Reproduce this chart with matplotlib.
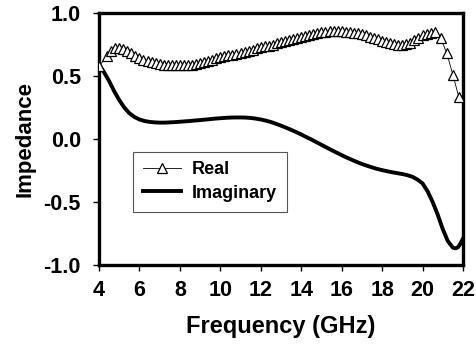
import matplotlib
matplotlib.use("Agg")
import matplotlib.pyplot as plt
import numpy as np

plt.rcParams['font.family'] = ['Liberation Sans', 'DejaVu Sans']
plt.rcParams['font.weight'] = 'bold'

# real part, sampled every 0.2 GHz plus the roll-off points
freq_real = [4.0, 4.4, 4.6, 4.8, 5.0, 5.2, 5.4, 5.6, 5.8, 6.0, 6.2, 6.4, 6.6, 6.8,
             7.0, 7.2, 7.4, 7.6, 7.8, 8.0, 8.2, 8.4, 8.6, 8.8, 9.0, 9.2, 9.4, 9.6,
             9.8, 10.0, 10.2, 10.4, 10.6, 10.8, 11.0, 11.2, 11.4, 11.6, 11.8, 12.0,
             12.2, 12.4, 12.6, 12.8, 13.0, 13.2, 13.4, 13.6, 13.8, 14.0, 14.2, 14.4,
             14.6, 14.8, 15.0, 15.2, 15.4, 15.6, 15.8, 16.0, 16.2, 16.4, 16.6, 16.8,
             17.0, 17.2, 17.4, 17.6, 17.8, 18.0, 18.2, 18.4, 18.6, 18.8, 19.0, 19.2,
             19.4, 19.6, 19.8, 20.0, 20.2, 20.4, 20.6, 20.9, 21.2, 21.5, 21.8]
real = [0.58, 0.655, 0.700, 0.720, 0.725, 0.718, 0.702, 0.680, 0.658, 0.642, 0.630,
        0.618, 0.608, 0.600, 0.594, 0.590, 0.588, 0.587, 0.586, 0.586, 0.587, 0.588,
        0.591, 0.598, 0.606, 0.614, 0.622, 0.631, 0.640, 0.648, 0.656, 0.663, 0.670,
        0.677, 0.685, 0.693, 0.701, 0.710, 0.719, 0.728, 0.735, 0.742, 0.750, 0.760,
        0.770, 0.778, 0.787, 0.795, 0.803, 0.811, 0.819, 0.826, 0.834, 0.841, 0.848,
        0.852, 0.855, 0.857, 0.857, 0.856, 0.853, 0.849, 0.844, 0.838, 0.831, 0.822,
        0.812, 0.801, 0.790, 0.779, 0.768, 0.759, 0.752, 0.749, 0.748, 0.752, 0.765,
        0.785, 0.805, 0.822, 0.835, 0.843, 0.847, 0.800, 0.680, 0.510, 0.330]

# imaginary part, every 0.25 GHz
freq_imag = [4.0, 4.25, 4.5, 4.75, 5.0, 5.25, 5.5, 5.75, 6.0, 6.25, 6.5, 6.75, 7.0,
             7.25, 7.5, 7.75, 8.0, 8.25, 8.5, 8.75, 9.0, 9.25, 9.5, 9.75, 10.0,
             10.25, 10.5, 10.75, 11.0, 11.25, 11.5, 11.75, 12.0, 12.25, 12.5, 12.75,
             13.0, 13.25, 13.5, 13.75, 14.0, 14.25, 14.5, 14.75, 15.0, 15.25, 15.5,
             15.75, 16.0, 16.25, 16.5, 16.75, 17.0, 17.25, 17.5, 17.75, 18.0, 18.25,
             18.5, 18.75, 19.0, 19.25, 19.5, 19.75, 20.0, 20.25, 20.5, 20.75, 21.0,
             21.25, 21.5, 21.625, 21.75, 21.875, 22.0]
imag = [0.59, 0.53, 0.46, 0.38, 0.31, 0.25, 0.205, 0.175, 0.155, 0.143, 0.136, 0.132,
        0.130, 0.130, 0.132, 0.134, 0.137, 0.140, 0.143, 0.147, 0.150, 0.154, 0.158,
        0.162, 0.165, 0.168, 0.170, 0.171, 0.171, 0.170, 0.167, 0.162, 0.155, 0.146,
        0.135, 0.121, 0.106, 0.090, 0.073, 0.055, 0.036, 0.016, -0.004, -0.025,
        -0.046, -0.067, -0.088, -0.108, -0.128, -0.147, -0.165, -0.182, -0.198,
        -0.212, -0.225, -0.237, -0.247, -0.256, -0.264, -0.271, -0.278, -0.287,
        -0.300, -0.322, -0.352, -0.415, -0.500, -0.600, -0.715, -0.810, -0.862,
        -0.868, -0.860, -0.830, -0.790]

xticks = [4, 6, 8, 10, 12, 14, 16, 18, 20, 22]
yticks = [-1.0, -0.5, 0.0, 0.5, 1.0]

fig = plt.figure(figsize=(4.77, 3.47), dpi=100)
ax = fig.add_axes([0.2075, 0.2363, 0.7631, 0.7262])

ax.plot(freq_real, real, color='black', lw=0.6, marker='^', ms=6.5,
        mfc='white', mec='black', mew=0.9, label='Real', zorder=3)
ax.plot(freq_imag, imag, color='black', lw=2.8, solid_joinstyle='round',
        label='Imaginary', zorder=2)

ax.set_xlim(4, 22)
ax.set_ylim(-1.0, 1.0)
ax.set_xticks(xticks)
ax.set_yticks(yticks)
ax.set_xticklabels([str(t) for t in xticks])
ax.set_yticklabels(['%.1f' % t for t in yticks])
ax.tick_params(direction='out', length=4, width=1, labelsize=15.5)
ax.tick_params(axis='x', pad=7)
ax.tick_params(axis='y', pad=9)
for lab in ax.get_xticklabels() + ax.get_yticklabels():
    lab.set_fontweight('bold')

for sp in ax.spines.values():
    sp.set_linewidth(2.4)

ax.set_xlabel('Frequency (GHz)', fontsize=17, fontweight='bold', labelpad=10)
ax.set_ylabel('Impedance', fontsize=16, fontweight='bold', labelpad=6)

leg = ax.legend(loc='lower left', bbox_to_anchor=(0.094, 0.2115), borderaxespad=0,
                numpoints=1, fancybox=False, framealpha=1, edgecolor='#555555',
                prop={'size': 13, 'weight': 'bold'}, handlelength=2.1,
                handletextpad=0.6, borderpad=0.55, labelspacing=0.35)
leg.get_frame().set_linewidth(0.8)

fig.savefig('out.png', dpi=100)
